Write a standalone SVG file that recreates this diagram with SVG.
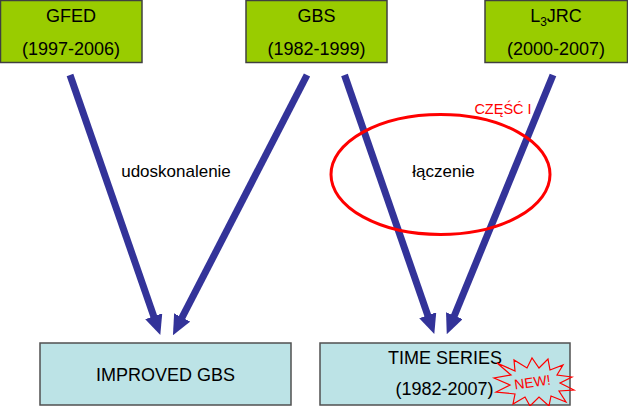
<svg xmlns="http://www.w3.org/2000/svg" width="628" height="406" viewBox="0 0 628 406">
<style>
.src{fill:#99CC00;stroke:#404040;stroke-width:1.5}
.dst{fill:#BCE3E6;stroke:#505050;stroke-width:1.5}
.t{font-family:"Liberation Sans",Arial,sans-serif;font-size:18px;fill:#000;text-anchor:middle}
.lbl{font-family:"Liberation Sans",Arial,sans-serif;font-size:17px;fill:#000;text-anchor:middle}
.red{font-family:"Liberation Sans",Arial,sans-serif;fill:#FF0000;text-anchor:middle}
.arr{stroke:#333399;stroke-width:7;fill:none;marker-end:url(#ah)}
</style>
<defs>
<marker id="ah" markerUnits="userSpaceOnUse" viewBox="0 0 20 18" markerWidth="20" markerHeight="18" refX="2" refY="9" orient="auto">
<path d="M0,0 L20,9 L0,18 Z" fill="#333399"/>
</marker>
</defs>
<rect width="628" height="406" fill="#FFFFFF"/>
<g id="gfed">
<rect class="src" x="0.5" y="0.5" width="141.5" height="62"/>
<text class="t" x="71" y="22">GFED</text>
<text class="t" x="71" y="55">(1997-2006)</text>
</g>
<g id="gbs">
<rect class="src" x="246" y="0.5" width="141" height="62"/>
<text class="t" x="316.5" y="22">GBS</text>
<text class="t" x="316.5" y="55">(1982-1999)</text>
</g>
<g id="l3jrc">
<rect class="src" x="485" y="0.5" width="142.5" height="62"/>
<text class="t" x="556" y="22">L<tspan font-size="12" dy="4">3</tspan><tspan dy="-4">JRC</tspan></text>
<text class="t" x="556" y="55">(2000-2007)</text>
</g>
<g id="improved">
<rect class="dst" x="40" y="343" width="251" height="62"/>
<text class="t" x="165.5" y="381">IMPROVED GBS</text>
</g>
<g id="timeseries">
<rect class="dst" x="320" y="343" width="250" height="62"/>
<text class="t" x="445" y="364">TIME SERIES</text>
<text class="t" x="444.5" y="395">(1982-2007)</text>
</g>
<g id="connectors">
<line class="arr" x1="70" y1="75" x2="154.4" y2="318.1"/>
<line class="arr" x1="307" y1="75" x2="181.2" y2="319.2"/>
<line class="arr" x1="344.5" y1="75" x2="428.4" y2="317.1"/>
<line class="arr" x1="553" y1="75" x2="453.6" y2="317.5"/>
</g>
<g id="udoskonalenie">
<text class="lbl" x="176" y="177">udoskonalenie</text>
</g>
<g id="laczenie">
<ellipse cx="440.5" cy="174.5" rx="109.5" ry="60" fill="none" stroke="#FF0000" stroke-width="3"/>
<text class="lbl" x="443.5" y="177">łączenie</text>
<text class="red" x="503" y="114" font-size="14.5px">CZĘŚĆ I</text>
</g>
<g id="new">
<path d="M497,363 L515,371 L514,360 L527,368 L532,358 L539,368 L548,359 L550,370 L563,365 L557,375 L572,377 L560,383 L574,390 L559,391 L566,402 L551,396 L549,406 L539,397 L530,406 L525,397 L513,404 L515,394 L496,392 L510,385 L494,378 L511,375 Z" fill="none" stroke="#FF0000" stroke-width="1.2"/>
<text class="red" x="0" y="0" font-size="14px" transform="translate(533,387) rotate(-8)">NEW!</text>
</g>
</svg>
